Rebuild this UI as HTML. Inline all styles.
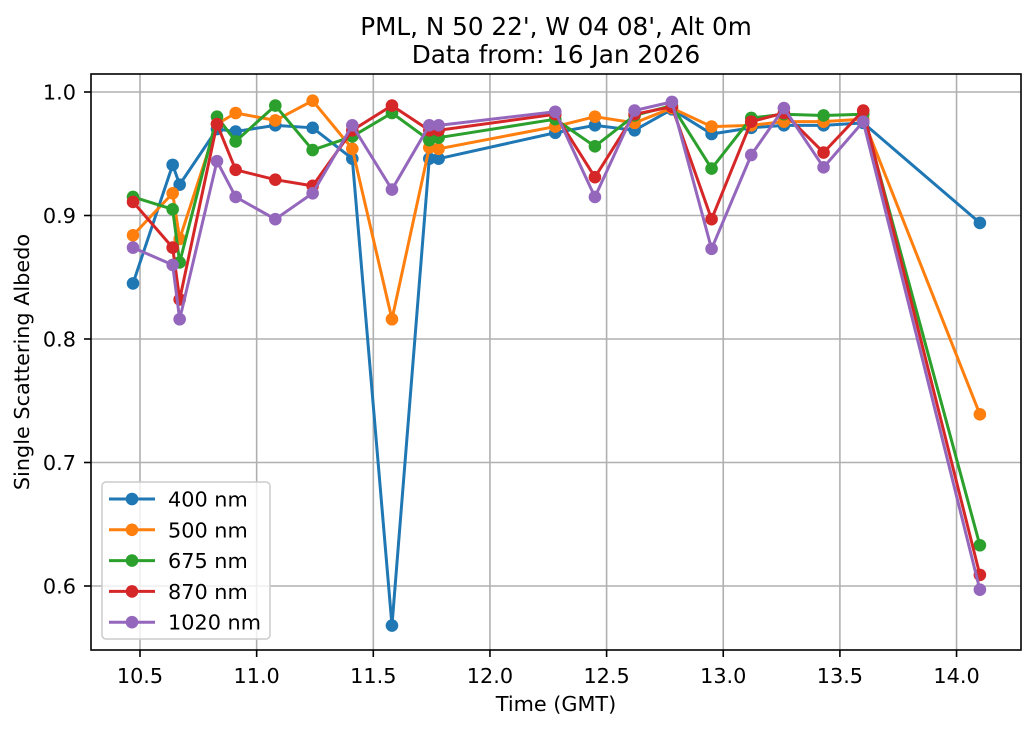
<!DOCTYPE html>
<html><head><meta charset="utf-8"><style>
body{margin:0;background:#fff;}
svg{display:block;font-family:"DejaVu Sans","Liberation Sans",sans-serif;}
</style></head><body>
<svg id="chart" width="1036" height="729">
<g id="grid"></g>
<g id="series"></g>
<rect x="91" y="74" width="930" height="576" fill="none" stroke="#000" stroke-width="1.6"/>
<g id="ticks"></g>
<text x="556" y="35" text-anchor="middle" font-size="24.7">PML, N 50 22', W 04 08', Alt 0m</text>
<text x="556" y="63" text-anchor="middle" font-size="24.7">Data from: 16 Jan 2026</text>
<text x="556" y="711" text-anchor="middle" font-size="20.8">Time (GMT)</text>
<text transform="translate(29,362) rotate(-90)" text-anchor="middle" font-size="20.8">Single Scattering Albedo</text>
<g id="legend"></g>
</svg>
<script>
const times=[10.47,10.64,10.67,10.83,10.91,11.08,11.24,11.41,11.58,11.74,11.78,12.28,12.45,12.62,12.78,12.95,13.12,13.26,13.43,13.60,14.10];
const s400=[0.845,0.941,0.925,0.970,0.968,0.973,0.971,0.946,0.568,0.946,0.946,0.967,0.973,0.969,0.986,0.966,0.971,0.973,0.973,0.975,0.894];
const s500=[0.884,0.918,0.881,0.974,0.983,0.977,0.993,0.954,0.816,0.955,0.954,0.972,0.980,0.975,0.987,0.972,0.973,0.976,0.976,0.978,0.739];
const s675=[0.915,0.905,0.862,0.980,0.960,0.989,0.953,0.964,0.983,0.961,0.963,0.978,0.956,0.981,0.989,0.938,0.979,0.982,0.981,0.982,0.633];
const s870=[0.911,0.874,0.832,0.974,0.937,0.929,0.924,0.969,0.989,0.969,0.969,0.982,0.931,0.982,0.988,0.897,0.976,0.983,0.951,0.985,0.609];
const s1020=[0.874,0.860,0.816,0.944,0.915,0.897,0.918,0.973,0.921,0.973,0.973,0.984,0.915,0.985,0.992,0.873,0.949,0.987,0.939,0.976,0.597];
const seriesNames=["400 nm","500 nm","675 nm","870 nm","1020 nm"];
const xTicks=["10.5","11.0","11.5","12.0","12.5","13.0","13.5","14.0"];
const yTicks=["0.6","0.7","0.8","0.9","1.0"];
const colors=["#1f77b4","#ff7f0e","#2ca02c","#d62728","#9467bd"];
const NS="http://www.w3.org/2000/svg";
const X=t=>140+(t-10.5)*233.3;
const Y=v=>92+(1-v)*1235;
function mk(tag,attrs,parent){const e=document.createElementNS(NS,tag);for(const k in attrs)e.setAttribute(k,attrs[k]);parent.appendChild(e);return e;}
const grid=document.getElementById('grid'),ticks=document.getElementById('ticks');
xTicks.forEach(l=>{const x=X(+l);
 let g=mk('line',{x1:x,x2:x,y1:74,y2:650,stroke:'#b0b0b0','stroke-width':1.6},grid);
 
 
 let t=mk('line',{x1:x,x2:x,y1:650,y2:657,stroke:'#000','stroke-width':1.6},ticks);
 
 
 let tx=mk('text',{x:x,y:683,'text-anchor':'middle','font-size':20.8},ticks);tx.textContent=l;
 
 
});
yTicks.forEach(l=>{const y=Y(+l);
 let g=mk('line',{x1:91,x2:1021,y1:y,y2:y,stroke:'#b0b0b0','stroke-width':1.6},grid);
 
 
 let t=mk('line',{x1:84,x2:91,y1:y,y2:y,stroke:'#000','stroke-width':1.6},ticks);
 
 
 let tx=mk('text',{x:76,y:y+7.5,'text-anchor':'end','font-size':20.8},ticks);tx.textContent=l;
 
 
});
const all=[s400,s500,s675,s870,s1020];
const sg=document.getElementById('series');
all.forEach((arr,i)=>{
 const g=mk('g',{},sg);
 
 
 const p=mk('polyline',{points:arr.map((v,j)=>X(times[j])+','+Y(v)).join(' '),fill:'none',stroke:colors[i],'stroke-width':3,'stroke-linejoin':'round'},g);
 
 
 arr.forEach((v,j)=>{const c=mk('circle',{cx:X(times[j]),cy:Y(v),r:6.3,fill:colors[i]},g);
  
  });
});
const lg=document.getElementById('legend');
const box=mk('rect',{x:102,y:482,width:168,height:157,rx:4,fill:'#fff','fill-opacity':0.8,stroke:'#ccc','stroke-width':1.5},lg);


seriesNames.forEach((n,i)=>{const y=499+i*30.8;
 const g=mk('g',{},lg);
 
 
 mk('line',{x1:109,x2:155,y1:y,y2:y,stroke:colors[i],'stroke-width':3},g);
 mk('circle',{cx:132,cy:y,r:6.3,fill:colors[i]},g);
 const t=mk('text',{x:168,y:y+7.5,'font-size':20.8},g);t.textContent=n;
});
</script>
</body></html>
